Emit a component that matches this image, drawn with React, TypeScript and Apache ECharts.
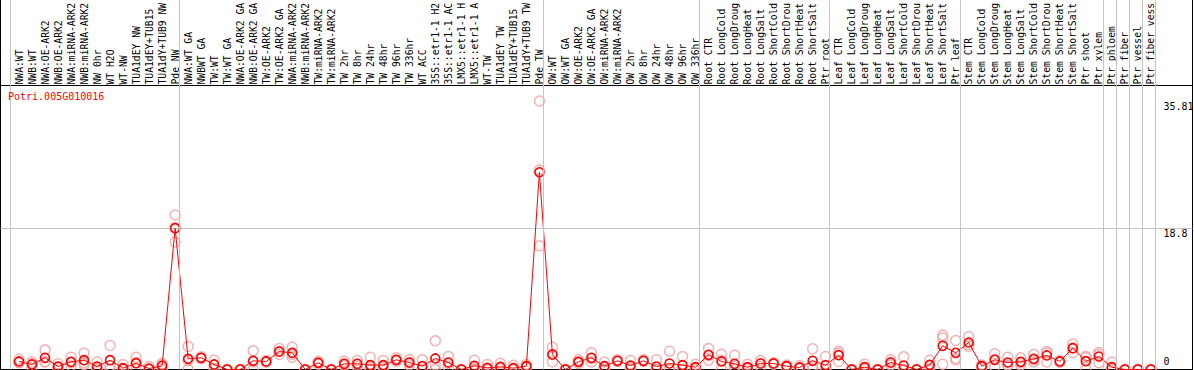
import React, { useEffect, useRef } from 'react';
import * as echarts from 'echarts';

// ---------- data ----------
const geneId = 'Potri.005G010016';

const categories = [
  'NWA:WT', 'NWB:WT', 'NWA:OE-ARK2', 'NWB:OE-ARK2', 'NWA:miRNA-ARK2', 'NWB:miRNA-ARK2',
  'NW 0hr', 'WT H2O', 'WT-NW', 'TUA1dEY NW', 'TUA1dEY+TUB15', 'TUA1dY+TUB9 NW', 'Pde NW',
  'NWA:WT GA', 'NWBWT GA', 'TW:WT', 'TW:WT GA', 'NWA:OE-ARK2 GA', 'NWB:OE-ARK2 GA',
  'TW:OE-ARK2', 'TW:OE-ARK2 GA', 'NWA:miRNA-ARK2', 'NWB:miRNA-ARK2', 'TW:miRNA-ARK2',
  'TW:miRNA-ARK2', 'TW 2hr', 'TW 8hr', 'TW 24hr', 'TW 48hr', 'TW 96hr', 'TW 336hr',
  'WT ACC', '35S::etr1-1 H2', '35S::etr1-1 AC', 'LMX5::etr1-1 H', 'LMX5::etr1-1 A',
  'WT-TW', 'TUA1dEY TW', 'TUA1dEY+TUB15', 'TUA1dY+TUB9 TW', 'Pde TW',
  'OW:WT', 'OW:WT GA', 'OW:OE-ARK2', 'OW:OE-ARK2 GA', 'OW:miRNA-ARK2', 'OW:miRNA-ARK2',
  'OW 2hr', 'OW 8hr', 'OW 24hr', 'OW 48hr', 'OW 96hr', 'OW 336hr',
  'Root CTR', 'Root LongCold', 'Root LongDroug', 'Root LongHeat', 'Root LongSalt',
  'Root ShortCold', 'Root ShortDrou', 'Root ShortHeat', 'Root ShortSalt', 'Ptr root',
  'Leaf CTR', 'Leaf LongCold', 'Leaf LongDroug', 'Leaf LongHeat', 'Leaf LongSalt',
  'Leaf ShortCold', 'Leaf ShortDrou', 'Leaf ShortHeat', 'Leaf ShortSalt', 'Ptr leaf',
  'Stem CTR', 'Stem LongCold', 'Stem LongDroug', 'Stem LongHeat', 'Stem LongSalt',
  'Stem ShortCold', 'Stem ShortDrou', 'Stem ShortHeat', 'Stem ShortSalt', 'Ptr shoot',
  'Ptr xylem', 'Ptr phloem', 'Ptr fiber', 'Ptr vessel', 'Ptr fiber vess',
];

// number of categories in each separated block
const groupSizes = [13, 28, 12, 10, 10, 11, 1, 1, 1, 1];

const means = [
  1.07, 0.67, 1.56, 0.4, 1.02, 1.24, 0.4, 1.24, 0.18, 0.84, 0.13, 0.49, 18.84,
  1.42, 1.56, 0.67, 0, 0, 1.16, 1.07, 2.4, 2.22, 0, 0.89, 0, 0.76, 0.76, 0.58, 0.58,
  1.29, 0.93, 0.44, 1.47, 0.93, 0, 0.49, 0.22, 0.36, 0.18, 0.44, 26.3,
  2.0, 0, 1.02, 1.56, 0.44, 1.16, 0.53, 1.16, 0.4, 0.8, 0.58, 0.31,
  1.96, 1.07, 0.76, 0.31, 0.8, 0.8, 0.44, 0.27, 1.16, 0.58,
  1.91, 0, 0.31, 0, 0.93, 0.53, 0, 0.62, 3.16, 2.22,
  3.6, 0.44, 1.29, 0.93, 1.02, 1.42, 1.87, 1.07, 2.84, 1.11, 1.73,
  0.31, 0, 0, 0,
];

const replicates = [
  [1.38, 0.93, 0.9], [1.0, 0.76, 0.25], [2.62, 1.07, 1.0], [0.76, 0.3, 0.15], [1.64, 0.9, 0.5],
  [2.18, 0.9, 0.65], [1.0, 0.2, 0.0], [3.2, 0.5, 0.0], [0.67, 0.0, 0.0], [1.64, 0.9, 0.0],
  [0.4, 0.0, 0.0], [0.8, 0.6, 0.1], [20.6, 17.0, 18.9],
  [3.07, 1.2, 0.0], [1.7, 1.5, 1.45], [1.24, 0.6, 0.15], [0, 0, 0], [0, 0, 0], [2.49, 1.0, 0.0],
  [1.2, 1.0, 1.0], [2.8, 2.4, 2.0], [2.98, 2.0, 1.64], [0, 0, 0], [1.1, 0.9, 0.7], [0, 0, 0],
  [1.1, 0.7, 0.5], [1.2, 0.7, 0.4], [1.64, 0.1, 0.0], [1.2, 0.4, 0.15], [1.55, 1.2, 1.1],
  [1.3, 0.9, 0.6], [1.29, 0.0, 0.0], [3.82, 0.6, 0.0], [1.73, 0.8, 0.3], [0, 0, 0],
  [1.24, 0.2, 0.0], [0.67, 0.0, 0.0], [0.84, 0.2, 0.05], [0.55, 0.0, 0.0], [0.67, 0.4, 0.25],
  [35.81, 16.5, 26.6],
  [2.98, 1.02, 2.0], [0, 0, 0], [1.3, 1.0, 0.8], [2.22, 1.45, 1.0], [1.0, 0.3, 0.0],
  [1.3, 1.1, 1.1], [1.2, 0.3, 0.1], [1.3, 1.1, 1.1], [1.3, 0.0, 0.0], [2.44, 0.0, 0.0],
  [1.73, 0.0, 0.0], [0.7, 0.2, 0.0],
  [2.8, 1.24, 1.85], [2.04, 1.2, 0.0], [1.91, 0.4, 0.0], [0.7, 0.2, 0.05], [1.2, 0.8, 0.4],
  [0.9, 0.8, 0.7], [0.6, 0.4, 0.3], [0.5, 0.2, 0.1], [2.76, 0.5, 0.2], [1.73, 0.0, 0.0],
  [2.44, 1.07, 2.2], [0, 0, 0], [0.7, 0.2, 0.0], [0, 0, 0], [1.3, 0.9, 0.6],
  [1.69, 0.0, 0.0], [0, 0, 0], [1.24, 0.5, 0.1], [4.58, 0.7, 4.2], [3.87, 1.29, 1.5],
  [4.4, 3.33, 3.1], [0.6, 0.4, 0.3], [2.1, 0.4, 1.35], [1.64, 0.6, 0.55], [1.55, 0.6, 0.9],
  [2.0, 1.0, 1.25], [2.22, 1.0, 2.4], [1.2, 1.0, 1.0], [3.4, 2.27, 2.85], [1.56, 0.0, 1.75],
  [2.27, 0.9, 2.0], [1.0, 0.0, 0.0], [0, 0, 0], [0, 0, 0], [0, 0, 0],
];

const yTickValues = [0, 18.8, 35.81];
const yMax = 37.87;

// ---------- layout / style ----------
const W = 1194;
const H = 370;
const FONT = '"DejaVu Sans Mono", monospace';
const STEP = 13.01; // px per category
const FIRST_X = 19; // px centre of first category
const BOUNDARY_OFFSET = 9 / STEP; // separator sits 9px left of a category's point
const PLOT_LEFT = 0.5;
const PLOT_RIGHT = 1192.5;
const PLOT_TOP = 85.5;
const PLOT_BOTTOM = 369.5;

const xMin = (PLOT_LEFT - FIRST_X) / STEP;
const xMax = (PLOT_RIGHT - FIRST_X) / STEP;

function buildOption() {
  const boundaries: number[] = [0];
  groupSizes.forEach((s) => boundaries.push(boundaries[boundaries.length - 1] + s));
  const sepValues = boundaries.map((b) => b - BOUNDARY_OFFSET);

  const meanData = means.map((v, i) => [i, v]);
  const repData: number[][] = [];
  replicates.forEach((reps, i) => reps.forEach((v) => repData.push([i, v])));

  const labelLeft = FIRST_X - STEP / 2;
  const labelWidth = categories.length * STEP;

  const baseLabel = { fontFamily: FONT, fontSize: 10, color: '#000' };

  return {
    animation: false,
    backgroundColor: '#fff',
    title: {
      text: geneId,
      left: 8,
      top: 91,
      padding: 0,
      textStyle: { color: '#ff0000', fontSize: 10, fontFamily: FONT, fontWeight: 'normal' },
    },
    grid: [
      {
        // outer frame incl. header
        left: PLOT_LEFT, right: W - PLOT_RIGHT, top: -1, bottom: H - PLOT_BOTTOM,
        show: true, borderColor: '#000', borderWidth: 1, backgroundColor: 'transparent',
        outerBoundsMode: 'none',
      },
      {
        // data area
        left: PLOT_LEFT, right: W - PLOT_RIGHT, top: PLOT_TOP, bottom: H - PLOT_BOTTOM,
        show: true, borderColor: '#000', borderWidth: 1, backgroundColor: 'transparent',
        outerBoundsMode: 'none',
      },
      {
        // category labels
        left: labelLeft, right: W - labelLeft - labelWidth, top: PLOT_TOP, bottom: H - PLOT_BOTTOM,
        show: false, outerBoundsMode: 'none',
      },
    ],
    xAxis: [
      { gridIndex: 0, type: 'value', min: xMin, max: xMax, show: false },
      { gridIndex: 1, type: 'value', min: xMin, max: xMax, show: false },
      {
        gridIndex: 2, type: 'category', position: 'top', data: categories, boundaryGap: true,
        axisLine: { show: false }, axisTick: { show: false }, splitLine: { show: false },
        axisLabel: { ...baseLabel, fontSize: 9.7, interval: 0, rotate: 90, margin: 1 },
      },
    ],
    yAxis: [
      { gridIndex: 0, type: 'value', min: 0, max: 1, show: false },
      {
        gridIndex: 1, type: 'value', min: 0, max: yMax, position: 'right',
        axisLine: { show: false }, axisTick: { show: false }, splitLine: { show: false },
        axisLabel: {
          ...baseLabel,
          inside: true,
          align: 'left',
          margin: 29,
          customValues: yTickValues,
          formatter: (v: number) => {
            const key = v === 0 ? 'lo' : v >= yTickValues[2] ? 'hi' : 'mid';
            return `{${key}|${v}}`;
          },
          rich: {
            lo: { ...baseLabel, padding: [0, 0, 16, 0] },
            mid: { ...baseLabel, padding: [9, 0, 0, 0] },
            hi: { ...baseLabel, padding: [12, 0, 0, 0] },
          },
        },
      },
      { gridIndex: 2, type: 'value', min: 0, max: 1, show: false },
    ],
    series: [
      {
        type: 'line',
        xAxisIndex: 0,
        yAxisIndex: 0,
        silent: true,
        data: [[sepValues[0], 0.5]],
        symbol: 'none',
        lineStyle: { opacity: 0 },
        z: 1,
        markLine: {
          silent: true,
          symbol: 'none',
          label: { show: false },
          lineStyle: { color: '#c4c4c4', width: 1, type: 'solid' },
          data: sepValues.map((b) => ({ xAxis: b })),
        },
      },
      {
        type: 'scatter',
        xAxisIndex: 1,
        yAxisIndex: 1,
        silent: true,
        data: repData,
        symbol: 'circle',
        symbolSize: 10,
        itemStyle: { color: 'rgba(0,0,0,0)', borderColor: '#f0a0a0', borderWidth: 1.5 },
        z: 2,
      },
      {
        type: 'line',
        xAxisIndex: 1,
        yAxisIndex: 1,
        silent: true,
        data: meanData,
        symbol: 'circle',
        symbolSize: 9,
        showAllSymbol: true,
        lineStyle: { color: '#ff0000', width: 1 },
        itemStyle: { color: 'rgba(0,0,0,0)', borderColor: '#ff0000', borderWidth: 1.6 },
        z: 3,
        markLine: {
          silent: true,
          symbol: 'none',
          label: { show: false },
          lineStyle: { color: '#c4c4c4', width: 1, type: 'solid' },
          data: [{ yAxis: yTickValues[1] }],
          z: 1,
        },
      },
    ],
  };
}

export default function App() {
  const ref = useRef<HTMLDivElement>(null);
  useEffect(() => {
    if (!ref.current) return;
    const chart = echarts.init(ref.current, undefined, { renderer: 'svg' });
    chart.setOption(buildOption() as any);
    return () => chart.dispose();
  }, []);
  return (
    <div
      ref={ref}
      style={{ position: 'fixed', left: 0, top: 0, width: W, height: H }}
    />
  );
}
